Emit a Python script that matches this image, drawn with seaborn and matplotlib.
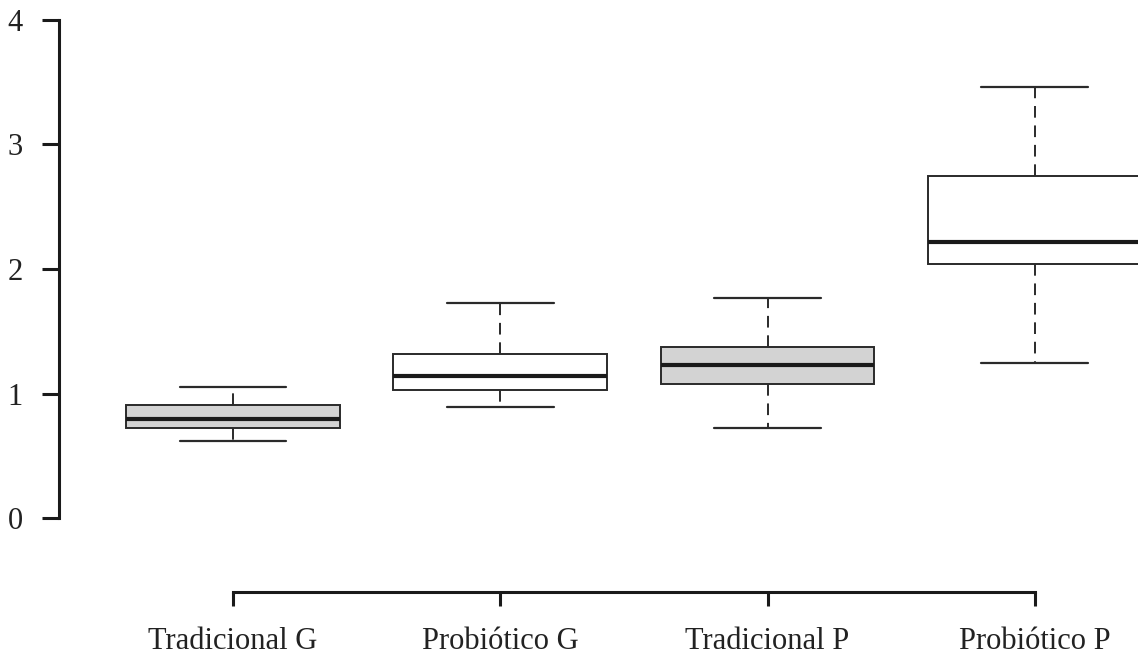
import pandas as pd
import numpy as np
import matplotlib
matplotlib.use("Agg")
import matplotlib.pyplot as plt
import seaborn as sns

# grupos y valores (mín, Q1, mediana, Q3, máx)
groups = ["Tradicional G", "Probiótico G", "Tradicional P", "Probiótico P"]
trad_g = [0.62, 0.72, 0.795, 0.91, 1.05]
prob_g = [0.89, 1.03, 1.14, 1.32, 1.73]
trad_p = [0.72, 1.08, 1.23, 1.37, 1.77]
prob_p = [1.245, 2.04, 2.22, 2.75, 3.46]
fills = ["#d3d3d3", "white", "#d3d3d3", "white"]

df = pd.DataFrame({
    "grupo": np.repeat(groups, 5),
    "valor": trad_g + prob_g + trad_p + prob_p,
})

sns.set_style("white")
plt.rcParams['font.family'] = ['Liberation Serif', 'DejaVu Serif']

fig = plt.figure(figsize=(11.38, 6.6), dpi=100)
ax = fig.add_axes([59/1138, (660-592)/660, (1138-59)/1138, (592-14)/660])

line_col = "#2a2a2a"
sns.boxplot(data=df, x="grupo", y="valor", hue="grupo", order=groups,
            palette=fills, saturation=1, legend=False, width=0.8,
            whis=(0, 100), linecolor=line_col, linewidth=1.4,
            showfliers=False, ax=ax,
            whiskerprops={"linestyle": (0, (6, 4)), "linewidth": 1.4},
            capprops={"linewidth": 1.6},
            medianprops={"linewidth": 3.0, "color": "#1a1a1a"})

ax.set_xlim(-0.651, 3.386)
ax.set_ylim(-0.594, 4.048)
ax.set_yticks([0, 1, 2, 3, 4])
ax.set_xticks(range(4))
ax.set_xticklabels(groups)
ax.set_xlabel("")
ax.set_ylabel("")

for s in ["top", "right"]:
    ax.spines[s].set_visible(False)
ax.spines["left"].set_bounds(0, 4)
ax.spines["bottom"].set_bounds(0, 3)
for s in ["left", "bottom"]:
    ax.spines[s].set_linewidth(2.2)
    ax.spines[s].set_color("#1a1a1a")
ax.tick_params(axis="y", length=12, width=2.2, color="#1a1a1a", pad=14,
               labelsize=22, labelcolor="#222222", left=True)
ax.tick_params(axis="x", length=10, width=2.2, color="#1a1a1a", pad=15,
               labelsize=22, labelcolor="#222222", bottom=True)

fig.savefig("out.png", dpi=100)
